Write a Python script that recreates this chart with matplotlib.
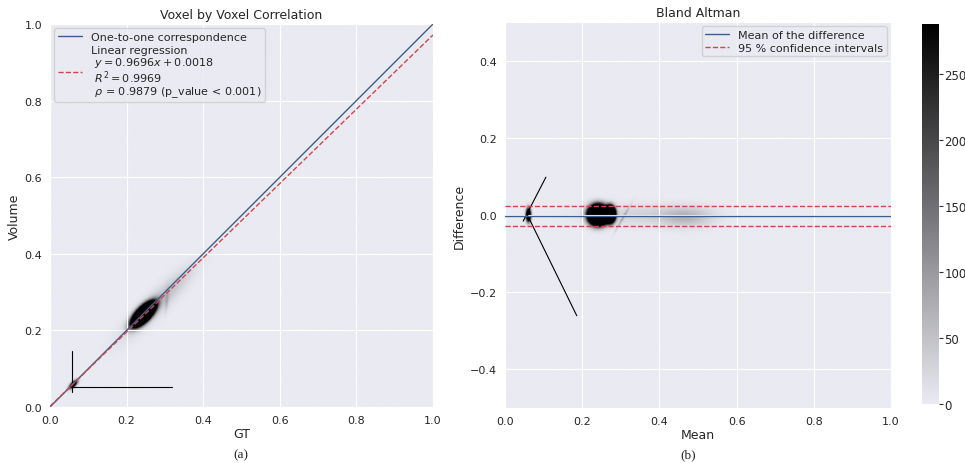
import numpy as np
import matplotlib.pyplot as plt
import seaborn as sns
from matplotlib.colors import LinearSegmentedColormap

sns.set_style('darkgrid')
plt.rcParams['font.family'] = ['DejaVu Sans']

# regression / Bland-Altman numbers
slope = 0.9696
intercept = 0.0018
r2 = 0.9969
rho = 0.9879
ba_mean = -0.002
ba_lo = -0.028
ba_hi = 0.024

# density clusters: centre x, centre y, sigma major, sigma minor, angle (deg), peak count
corr_cx = [0.244, 0.27, 0.060, 0.305, 0.33]
corr_cy = [0.242, 0.262, 0.058, 0.280, 0.32]
corr_sa = [0.021, 0.075, 0.009, 0.020, 0.05]
corr_sb = [0.009, 0.018, 0.004, 0.003, 0.014]
corr_ang = [46, 45, 45, 85, 45]
corr_peak = [3000, 45, 500, 50, 20]

ba_cx = [0.241, 0.272, 0.060, 0.35, 0.47, 0.305]
ba_cy = [0.000, 0.002, 0.000, 0.000, -0.005, -0.008]
ba_sa = [0.0135, 0.007, 0.004, 0.10, 0.045, 0.025]
ba_sb = [0.0135, 0.011, 0.011, 0.018, 0.017, 0.002]
ba_ang = [0, 0, 0, 0, 0, 60]
ba_peak = [3000, 3000, 700, 30, 60, 70]

# thin voxel streaks: x0, y0, x1, y1
corr_streaks = [(0.057, 0.039, 0.057, 0.146), (0.057, 0.052, 0.318, 0.052)]
ba_streaks = [(0.047, -0.016, 0.106, 0.098), (0.058, 0.0, 0.186, -0.261)]

VMAX = 288
cmap = LinearSegmentedColormap.from_list('bg_black', ['#eaeaf2', '#000000'])


def density(xs, ys, cx, cy, sa, sb, ang, peak):
    X, Y = np.meshgrid(xs, ys)
    Z = np.zeros_like(X)
    for x0, y0, a, b, t, p in zip(cx, cy, sa, sb, ang, peak):
        th = np.deg2rad(t)
        u = (X - x0) * np.cos(th) + (Y - y0) * np.sin(th)
        v = -(X - x0) * np.sin(th) + (Y - y0) * np.cos(th)
        Z += p * np.exp(-0.5 * ((u / a) ** 2 + (v / b) ** 2))
    return Z


W, H = 965, 464
fig = plt.figure(figsize=(W / 100, H / 100), dpi=100)
ax1 = fig.add_axes([50 / W, (H - 408) / H, 383 / W, 383 / H])
ax2 = fig.add_axes([505 / W, (H - 409) / H, 386 / W, 386 / H])
cax = fig.add_axes([922 / W, (H - 405) / H, 17 / W, 380 / H])

FS = 8
BLUE = '#3a5f8f'
RED = '#d0454a'

# --- correlation panel
gx = np.linspace(0, 1, 500)
gy = np.linspace(0, 1, 500)
Z1 = density(gx, gy, corr_cx, corr_cy, corr_sa, corr_sb, corr_ang, corr_peak)
ax1.imshow(Z1, origin='lower', extent=[0, 1, 0, 1], cmap=cmap, vmin=0, vmax=VMAX,
           aspect='auto', interpolation='bilinear', zorder=1)
for x0, y0, x1, y1 in corr_streaks:
    ax1.plot([x0, x1], [y0, y1], color='black', lw=0.8, zorder=2.6)
xl = np.array([0, 1])
ax1.plot(xl, xl, color=BLUE, lw=1, label='One-to-one correspondence', zorder=3)
reg_label = ('Linear regression\n $y = %.4fx + %.4f$\n $R^2 = %.4f$\n $\\rho$ = %.4f (p_value < 0.001)'
             % (slope, intercept, r2, rho))
ax1.plot(xl, slope * xl + intercept, color=RED, lw=1, ls='--', label=reg_label, zorder=3)
ax1.set_xlim(0, 1)
ax1.set_ylim(0, 1)
ax1.set_xticks(np.arange(0, 1.01, 0.2))
ax1.set_yticks(np.arange(0, 1.01, 0.2))
ax1.tick_params(labelsize=FS, pad=2)
ax1.set_xlabel('GT', fontsize=FS + 1, labelpad=2)
ax1.set_ylabel('Volume', fontsize=FS + 1, labelpad=3)
ax1.set_title('Voxel by Voxel Correlation', fontsize=FS + 1, pad=4)
leg1 = ax1.legend(loc='upper left', fontsize=FS, handlelength=2.2, borderaxespad=0.4,
                  labelspacing=0.3, borderpad=0.3)
for t in leg1.get_texts():
    t.set_linespacing(0.95)
ax1.set_axisbelow(False)

# --- Bland-Altman panel
by = np.linspace(-0.5, 0.5, 500)
Z2 = density(gx, by, ba_cx, ba_cy, ba_sa, ba_sb, ba_ang, ba_peak)
im = ax2.imshow(Z2, origin='lower', extent=[0, 1, -0.5, 0.5], cmap=cmap, vmin=0, vmax=VMAX,
                aspect='auto', interpolation='bilinear', zorder=1)
for x0, y0, x1, y1 in ba_streaks:
    ax2.plot([x0, x1], [y0, y1], color='black', lw=0.8, zorder=2.6)
ax2.axhline(ba_mean, color=BLUE, lw=1, label='Mean of the difference', zorder=3)
ax2.axhline(ba_hi, color=RED, lw=1, ls='--', label='95 % confidence intervals', zorder=3)
ax2.axhline(ba_lo, color=RED, lw=1, ls='--', zorder=3)
ax2.set_xlim(0, 1)
ax2.set_ylim(-0.5, 0.5)
ax2.set_xticks(np.arange(0, 1.01, 0.2))
ax2.set_yticks([-0.4, -0.2, 0.0, 0.2, 0.4])
ax2.tick_params(labelsize=FS, pad=2)
ax2.set_xlabel('Mean', fontsize=FS + 1, labelpad=2)
ax2.set_ylabel('Difference', fontsize=FS + 1, labelpad=3)
ax2.set_title('Bland Altman', fontsize=FS + 1, pad=4)
ax2.legend(loc='upper right', fontsize=FS, handlelength=2.2, borderaxespad=0.4,
           labelspacing=0.3, borderpad=0.3)
ax2.set_axisbelow(False)

cb = fig.colorbar(im, cax=cax)
cb.outline.set_visible(False)
cb.set_ticks([0, 50, 100, 150, 200, 250])
cax.tick_params(labelsize=FS + 0.5, length=3, width=0.8, color='#333333', pad=1)

fig.text(241 / W, 1 - 455 / H, '(a)', family='Liberation Serif', fontsize=FS + 1.5, ha='center', va='center')
fig.text(688 / W, 1 - 455 / H, '(b)', family='Liberation Serif', fontsize=FS + 1.5, ha='center', va='center')

fig.savefig('out.png', dpi=100)
